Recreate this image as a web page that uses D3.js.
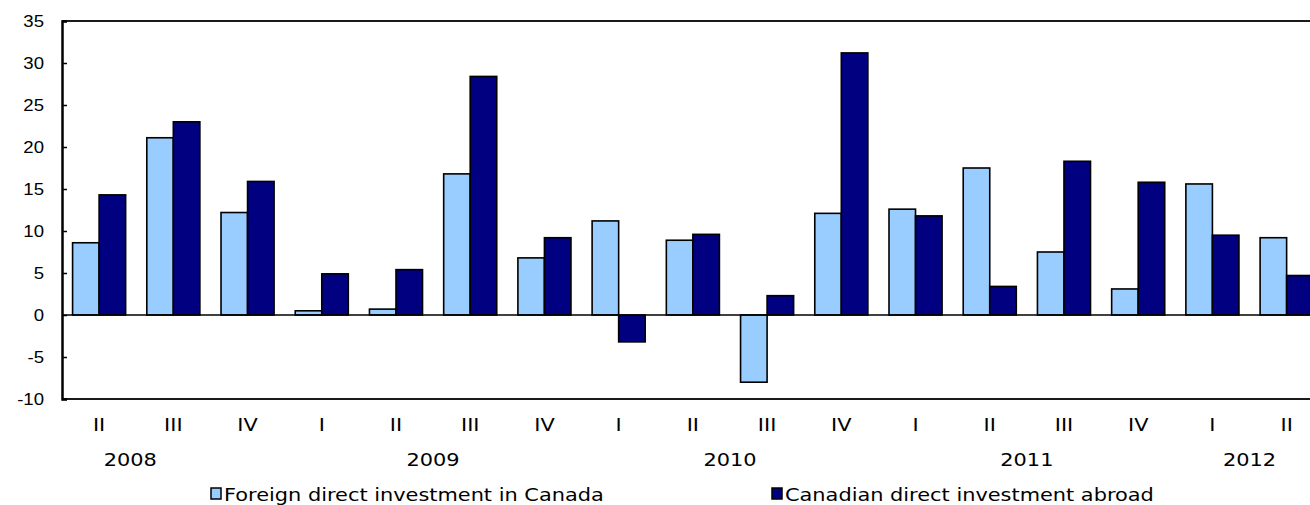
<!DOCTYPE html>
<html lang="en">
<head>
<meta charset="utf-8">
<script src="https://d3js.org/d3.v7.min.js"></script>
<style>
  body { margin: 0; background: #fff; }
  svg text { fill: #000; }
</style>
</head>
<body>
<div id="chart"></div>
<script>
// quarters shown along the x axis
var quarters = ["II", "III", "IV", "I", "II", "III", "IV", "I", "II", "III", "IV", "I", "II", "III", "IV", "I", "II"];
// year of each quarter
var quarterYears = [2008, 2008, 2008, 2009, 2009, 2009, 2009, 2010, 2010, 2010, 2010, 2011, 2011, 2011, 2011, 2012, 2012];
var years = ["2008", "2009", "2010", "2011", "2012"];

var seriesNames = ["Foreign direct investment in Canada", "Canadian direct investment abroad"];
var fdiCanada = [8.6, 21.1, 12.2, 0.5, 0.7, 16.8, 6.8, 11.2, 8.9, -8.0, 12.1, 12.6, 17.5, 7.5, 3.1, 15.6, 9.2];
var cdiAbroad = [14.3, 23.0, 15.9, 4.9, 5.4, 28.4, 9.2, -3.2, 9.6, 2.3, 31.2, 11.8, 3.4, 18.3, 15.8, 9.5, 4.7];

var yTicks = [-10, -5, 0, 5, 10, 15, 20, 25, 30, 35];
var colors = ["#99ccff", "#000080"];

var width = 1310, height = 505;
var plotLeft = 62, plotTop = 21, plotBottom = 399;
var step = 74.22;
var stretch = 1.16; // the reference text is drawn a bit wide

var svg = d3.select("#chart").append("svg")
    .attr("width", width)
    .attr("height", height);

var x0 = d3.scaleBand()
    .domain(d3.range(quarters.length))
    .range([plotLeft, plotLeft + step * quarters.length])
    .paddingInner(0.285)
    .paddingOuter(0.1425);

var x1 = d3.scaleBand()
    .domain([0, 1])
    .range([0, x0.bandwidth()]);

var y = d3.scaleLinear()
    .domain([-10, 35])
    .range([plotBottom, plotTop]);

var rows = quarters.map(function(q, i) {
    return { i: i, values: [fdiCanada[i], cdiAbroad[i]] };
});

function wideText(sel, x, yy) {
    return sel.attr("transform", function(d, i) {
        return "translate(" + x(d, i) + "," + yy(d, i) + ") scale(" + stretch + ",1)";
    });
}

// bars
var groups = svg.selectAll(".grp")
    .data(rows)
    .enter().append("g")
    .attr("class", "grp")
    .attr("transform", function(d) { return "translate(" + x0(d.i) + ",0)"; });

groups.selectAll("rect")
    .data(function(d) { return d.values; })
    .enter().append("rect")
    .attr("x", function(d, k) { return x1(k); })
    .attr("width", x1.bandwidth())
    .attr("y", function(d) { return y(Math.max(0, d)); })
    .attr("height", function(d) { return Math.abs(y(d) - y(0)); })
    .attr("fill", function(d, k) { return colors[k]; })
    .attr("stroke", "#000")
    .attr("stroke-width", 1.6);

// zero line
svg.append("line")
    .attr("x1", plotLeft).attr("x2", width)
    .attr("y1", y(0)).attr("y2", y(0))
    .attr("stroke", "#000").attr("stroke-width", 1.5);

// plot frame (top and bottom)
svg.append("line")
    .attr("x1", plotLeft).attr("x2", width)
    .attr("y1", plotTop).attr("y2", plotTop)
    .attr("stroke", "#1a1a1a").attr("stroke-width", 2);
svg.append("line")
    .attr("x1", plotLeft).attr("x2", width)
    .attr("y1", plotBottom).attr("y2", plotBottom)
    .attr("stroke", "#1a1a1a").attr("stroke-width", 2);

// y axis, ticks pointing into the plot
var yAxis = d3.axisRight(y)
    .tickValues(yTicks)
    .tickSize(5)
    .tickFormat("");
var ya = svg.append("g")
    .attr("transform", "translate(" + plotLeft + ",0)")
    .call(yAxis);
ya.select(".domain").attr("stroke", "#000").attr("stroke-width", 2.5);
ya.selectAll(".tick line").attr("stroke", "#000").attr("stroke-width", 1.5);

wideText(svg.selectAll(".ylab")
    .data(yTicks)
    .enter().append("text")
    .attr("class", "ylab"),
    function() { return 44; }, function(d) { return y(d); })
    .attr("dy", "0.36em")
    .attr("text-anchor", "end")
    .attr("font-family", "Liberation Sans, Arial, sans-serif")
    .attr("font-size", 16)
    .text(function(d) { return d; });

// quarter labels
wideText(svg.selectAll(".qlab")
    .data(rows)
    .enter().append("text")
    .attr("class", "qlab"),
    function(d) { return x0(d.i) + x0.bandwidth() / 2; }, function() { return 431; })
    .attr("text-anchor", "middle")
    .attr("font-family", "DejaVu Sans, Verdana, sans-serif")
    .attr("font-size", 18)
    .text(function(d) { return quarters[d.i]; });

// year labels, centred under each year's quarters (2008 sits further left)
var yearShift = { "2008": -0.58 };
wideText(svg.selectAll(".yrlab")
    .data(years)
    .enter().append("text")
    .attr("class", "yrlab"),
    function(yr) {
        var idx = d3.range(quarters.length).filter(function(i) { return String(quarterYears[i]) === yr; });
        var mid = (d3.min(idx) + d3.max(idx)) / 2 + (yearShift[yr] || 0);
        return x0.step() * mid + x0(0) + x0.bandwidth() / 2;
    }, function() { return 466; })
    .attr("text-anchor", "middle")
    .attr("font-family", "DejaVu Sans, Verdana, sans-serif")
    .attr("font-size", 18)
    .text(function(d) { return d; });

// legend
var legendX = [211, 772];
var leg = svg.selectAll(".leg")
    .data(seriesNames)
    .enter().append("g")
    .attr("class", "leg")
    .attr("transform", function(d, i) { return "translate(" + legendX[i] + ",488)"; });
leg.append("rect")
    .attr("width", 10).attr("height", 11)
    .attr("fill", function(d, i) { return colors[i]; })
    .attr("stroke", "#000").attr("stroke-width", 1.5);
leg.append("text")
    .attr("transform", "translate(13,12.5) scale(" + stretch + ",1)")
    .attr("font-family", "DejaVu Sans, Verdana, sans-serif")
    .attr("font-size", 18)
    .text(function(d) { return d; });
</script>
</body>
</html>
